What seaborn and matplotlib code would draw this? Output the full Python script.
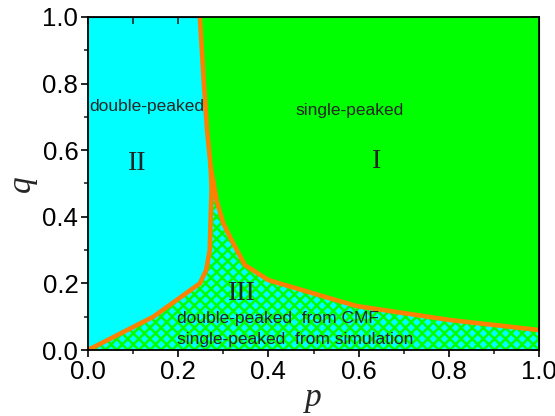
import numpy as np
import pandas as pd
import matplotlib
matplotlib.use("Agg")
import matplotlib.pyplot as plt
import seaborn as sns

# Boundary between region II and region I (upper part, top to split point)
upper_p = [0.248, 0.257, 0.264, 0.272]
upper_q = [1.00, 0.80, 0.66, 0.55]
# Boundary between region II and region III (split point down to origin)
left_p = [0.272, 0.274, 0.272, 0.270, 0.262, 0.248, 0.145, 0.0]
left_q = [0.55, 0.48, 0.40, 0.30, 0.24, 0.20, 0.10, 0.0]
# Boundary between region I and region III (split point to p=1)
right_p = [0.272, 0.285, 0.300, 0.322, 0.348, 0.400, 0.537, 0.596, 0.803, 1.0]
right_q = [0.55, 0.45, 0.38, 0.32, 0.255, 0.21, 0.155, 0.132, 0.09, 0.06]

xticks = [0.0, 0.2, 0.4, 0.6, 0.8, 1.0]
yticks = [0.0, 0.2, 0.4, 0.6, 0.8, 1.0]

sns.set_style("ticks")
plt.rcParams["font.family"] = ["Liberation Sans", "DejaVu Sans"]
plt.rcParams["hatch.linewidth"] = 1.8

CYAN = "#00FFFF"
GREEN = "#00FF00"
ORANGE = "#FF8000"

fig = plt.figure(figsize=(5.55, 4.16), dpi=100)
ax = fig.add_axes([88/555, 1-350/416, (539-88)/555, (350-17)/416])

# region II (cyan) everywhere as background
ax.fill([0, 1, 1, 0], [0, 0, 1, 1], color=CYAN, lw=0, zorder=0)
# region I (green)
gx = [upper_p[0], 1.0, 1.0] + right_p[::-1] + upper_p[::-1]
gy = [upper_q[0], 1.0, right_q[-1]] + right_q[::-1] + upper_q[::-1]
ax.fill(gx, gy, facecolor=GREEN, lw=0, zorder=1)
# region III (hatched)
hx = left_p + [1.0] + right_p[::-1]
hy = left_q + [0.0] + right_q[::-1]
ax.fill(hx, hy, facecolor=CYAN, edgecolor=GREEN, hatch="xxx", lw=0, zorder=1)

# boundaries
lines = pd.concat([
    pd.DataFrame({"p": upper_p, "q": upper_q, "seg": "a"}),
    pd.DataFrame({"p": left_p, "q": left_q, "seg": "b"}),
    pd.DataFrame({"p": right_p, "q": right_q, "seg": "c"}),
])
for seg, d in lines.groupby("seg"):
    sns.lineplot(data=d, x="p", y="q", sort=False, estimator=None, color=ORANGE,
                 lw=3.3, ax=ax, zorder=3, solid_joinstyle="round", solid_capstyle="round")

ax.set_xlim(0, 1)
ax.set_ylim(0, 1)
ax.set_xticks(xticks)
ax.set_yticks(yticks)
ax.set_xticklabels([f"{v:.1f}" for v in xticks])
ax.set_yticklabels([f"{v:.1f}" for v in yticks])
ax.set_xticks(np.arange(0.1, 1.0, 0.2), minor=True)
ax.set_yticks(np.arange(0.1, 1.0, 0.2), minor=True)
ax.tick_params(which="major", direction="out", length=5, width=1.2, labelsize=18.5, pad=2, colors="black")
ax.tick_params(which="minor", direction="out", length=3, width=1.2)
for s in ax.spines.values():
    s.set_visible(True)
    s.set_linewidth(1.3)
    s.set_color("black")
    s.set_zorder(5)

top = ax.secondary_xaxis("top")
top.set_xticks(list(xticks) + list(np.arange(0.1, 1.0, 0.2)))
top.tick_params(direction="in", length=5, width=1.2, labeltop=False)
right = ax.secondary_yaxis("right")
right.set_yticks(list(yticks) + list(np.arange(0.1, 1.0, 0.2)))
right.tick_params(direction="in", length=5, width=1.2, labelright=False)

ax.set_xlabel("p", fontfamily="Liberation Serif", fontstyle="italic", fontsize=24, labelpad=-1)
ax.set_ylabel("q", fontfamily="Liberation Serif", fontstyle="italic", fontsize=24, labelpad=4)

ax.text(0.003, 0.73, "double-peaked", fontsize=12.5, ha="left", va="center", zorder=4)
ax.text(0.58, 0.72, "single-peaked", fontsize=12.5, ha="center", va="center", zorder=4)
ax.text(0.11, 0.56, "II", fontsize=20, family="Liberation Serif", ha="center", va="center", zorder=4)
ax.text(0.64, 0.565, "I", fontsize=20, family="Liberation Serif", ha="center", va="center", zorder=4)
ax.text(0.34, 0.17, "III", fontsize=20, family="Liberation Serif", ha="center", va="center", zorder=4)
ax.text(0.198, 0.096, "double-peaked  from CMF", fontsize=12.5, ha="left", va="center", zorder=4)
ax.text(0.198, 0.033, "single-peaked  from simulation", fontsize=12.5, ha="left", va="center", zorder=4)

fig.savefig("out.png", dpi=100)
